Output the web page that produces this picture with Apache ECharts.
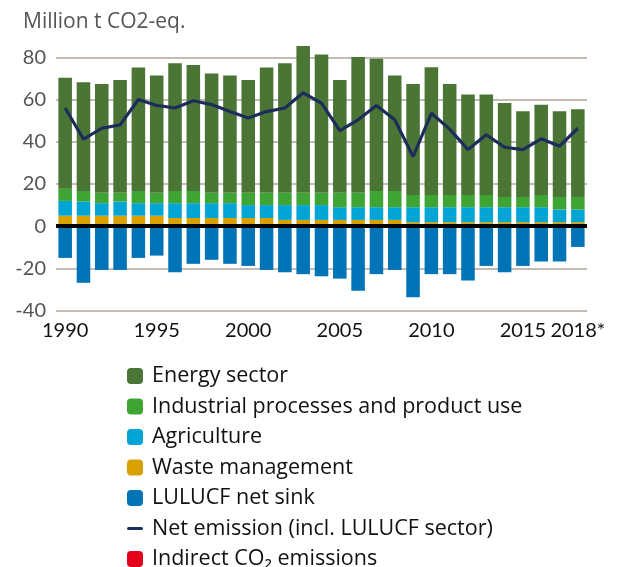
<!DOCTYPE html>
<html>
<head>
<meta charset="utf-8">
<script src="https://cdn.jsdelivr.net/npm/echarts@6/dist/echarts.min.js"></script>
<style>
html,body{margin:0;padding:0;background:#fff;}
#chart{width:619px;height:567px;}
</style>
</head>
<body>
<div id="chart"></div>
<script>
var years = ['1990','1991','1992','1993','1994','1995','1996','1997','1998','1999','2000','2001','2002','2003','2004','2005','2006','2007','2008','2009','2010','2011','2012','2013','2014','2015','2016','2017','2018*'];
var shownYears = ['1990','1995','2000','2005','2010','2015','2018*'];
var energy = [52.5,51.5,51.5,53.5,58.5,55.6,60.5,59.6,56.5,55.6,53.5,59.4,61.4,69.5,65.5,53.5,64.4,62.6,54.7,52.6,60.5,52.6,47.6,47.6,44.5,40.6,42.7,40.6,41.5];
var industrial = [5.8,5.0,4.9,4.1,5.8,4.9,5.8,5.8,4.9,4.9,5.8,5.8,5.8,5.8,5.8,6.8,6.8,7.7,7.7,5.8,5.8,5.8,5.8,5.8,4.9,4.9,5.8,6.0,6.0];
var agriculture = [7.0,6.7,5.9,6.7,5.9,5.9,7.0,7.0,7.0,7.0,6.1,6.1,7.0,7.0,7.0,6.0,6.0,6.0,6.0,7.1,7.1,7.1,7.1,7.1,7.1,7.1,7.1,6.0,6.0];
var waste = [5,5,5,5,5,5,3.9,3.9,3.9,3.9,3.9,3.9,3,3,3,3,3,3,3,1.9,1.9,1.9,1.9,1.9,1.9,1.9,1.9,1.9,1.9];
var lulucf = [-15,-26.8,-20.7,-20.7,-15,-13.9,-21.8,-17.8,-15.9,-17.8,-18.8,-20.7,-21.8,-22.7,-23.7,-24.8,-30.6,-22.7,-20.7,-33.6,-22.7,-22.7,-25.7,-18.8,-21.8,-18.8,-16.7,-16.7,-9.8];
var netEmission = [56,41.2,46.4,48,60,57.2,56,59.4,57.6,54.3,51.2,54.3,56,63.2,58.3,45.3,50.4,57.2,50.4,33,53.5,46,36.3,43.3,37.4,36.3,41.4,37.9,46.4];
var indirectCO2 = [];
var yTicks = {min: -40, max: 80, interval: 20};

var names = {
  energy: 'Energy sector',
  ind: 'Industrial processes and product use',
  agri: 'Agriculture',
  waste: 'Waste management',
  lulucf: 'LULUCF net sink',
  net: 'Net emission (incl. LULUCF sector)',
  indirect: 'Indirect CO\u2082 emissions'
};

var AXFONT = 'Lato';
var TXFONT = 'Open Sans';
var chart = echarts.init(document.getElementById('chart'), null, {renderer: 'canvas'});
function bar(name, data, color) {
  return {
    name: name, type: 'bar', stack: 'total', data: data, barWidth: '74%',
    clip: false, itemStyle: {color: color}, emphasis: {disabled: true}
  };
}
chart.setOption({
  animation: false,
  textStyle: {fontFamily: TXFONT},
  title: {
    text: 'Million t CO2-eq.', left: 18, top: 7,
    textStyle: {fontFamily: TXFONT, fontSize: 21, fontWeight: 'normal', color: '#555'}
  },
  grid: {left: 56, right: 32, top: 57.3, bottom: 256.3, containLabel: false},
  xAxis: {
    type: 'category', data: years, boundaryGap: true,
    axisLine: {show: false, onZero: false},
    axisTick: {show: false},
    axisLabel: {
      interval: function (i, v) { return shownYears.indexOf(v) >= 0; },
      color: '#111', fontSize: 20, fontFamily: AXFONT, margin: 10
    }
  },
  yAxis: {
    type: 'value', min: yTicks.min, max: yTicks.max, interval: yTicks.interval,
    axisLine: {show: false}, axisTick: {show: false},
    axisLabel: {color: '#555', fontSize: 20, fontFamily: AXFONT, margin: 10},
    splitLine: {lineStyle: {color: '#c4bcb4', width: 2}}
  },
  legend: {
    orient: 'vertical', left: 122, top: 360, height: 260,
    itemWidth: 16, itemHeight: 16, itemGap: 8.5,
    textStyle: {fontSize: 21.5, fontFamily: TXFONT, color: '#111', padding: [0, 0, 0, 4]},
    data: [names.energy, names.ind, names.agri, names.waste, names.lulucf,
      {name: names.net, icon: 'path://M1.5,0H14.5A1.5,1.5,0,0,1,14.5,3H1.5A1.5,1.5,0,0,1,1.5,0Z'},
      names.indirect]
  },
  series: [
    bar(names.waste, waste, '#d8a000'),
    bar(names.agri, agriculture, '#00a5d5'),
    bar(names.ind, industrial, '#3ea535'),
    bar(names.energy, energy, '#4a7535'),
    bar(names.lulucf, lulucf, '#0074b6'),
    bar(names.indirect, indirectCO2, '#e2001a'),
    {
      name: names.net, type: 'line', data: netEmission, symbol: 'none', z: 5,
      symbolKeepAspect: true,
      lineStyle: {color: '#1c2d5a', width: 3.2}, itemStyle: {color: '#1c2d5a'},
      emphasis: {disabled: true},
      markLine: {
        silent: true, symbol: ['none', 'none'], label: {show: false},
        lineStyle: {color: '#000', width: 4, type: 'solid'},
        emphasis: {disabled: true},
        data: [{yAxis: 0}]
      }
    }
  ]
});
</script>
</body>
</html>
